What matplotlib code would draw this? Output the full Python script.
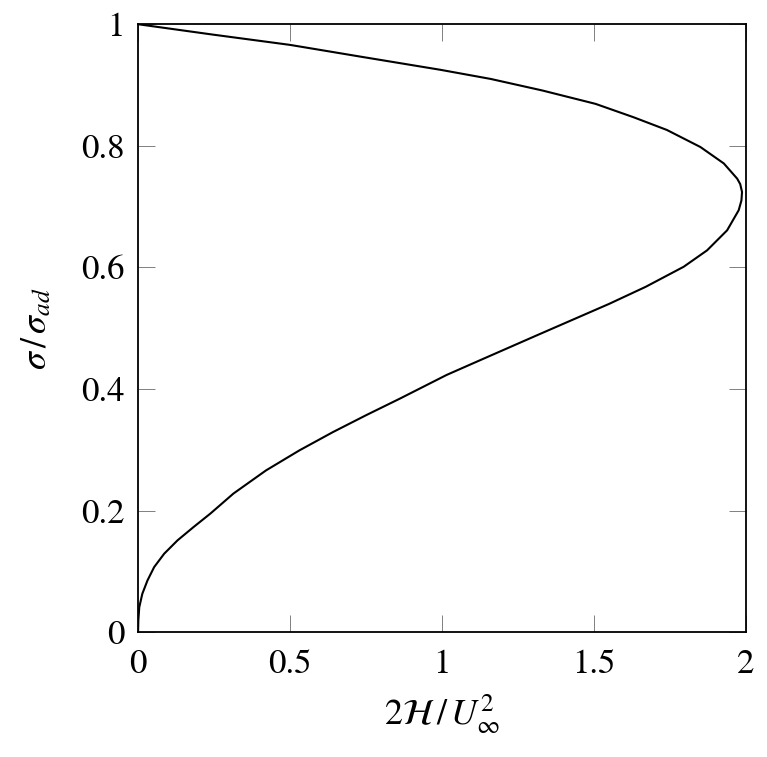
import matplotlib
matplotlib.use("Agg")
import matplotlib.pyplot as plt

# values (sigma/sigma_ad vs 2H/U^2)
sigma = [0.000, 0.020, 0.041, 0.063, 0.085, 0.107, 0.129, 0.151, 0.173, 0.195,
         0.228, 0.266, 0.299, 0.329, 0.357, 0.384, 0.423, 0.447, 0.488, 0.540,
         0.568, 0.601, 0.628, 0.661, 0.694, 0.710, 0.724, 0.737, 0.746, 0.771,
         0.798, 0.826, 0.847, 0.869, 0.891, 0.910, 0.925, 0.946, 0.966, 0.983,
         1.000]
energy = [0.000, 0.001, 0.004, 0.014, 0.031, 0.053, 0.086, 0.130, 0.183, 0.238,
          0.314, 0.421, 0.531, 0.641, 0.751, 0.861, 1.015, 1.124, 1.311, 1.550,
          1.670, 1.795, 1.872, 1.938, 1.976, 1.985, 1.987, 1.981, 1.971, 1.927,
          1.850, 1.740, 1.630, 1.505, 1.330, 1.160, 0.995, 0.740, 0.500, 0.245,
          0.000]

xticks = [0, 0.5, 1, 1.5, 2]
xticklabels = ["0", "0.5", "1", "1.5", "2"]
yticks = [0, 0.2, 0.4, 0.6, 0.8, 1]
yticklabels = ["0", "0.2", "0.4", "0.6", "0.8", "1"]

plt.rcParams["font.family"] = "STIXGeneral"
plt.rcParams["mathtext.fontset"] = "stix"

fig = plt.figure(figsize=(7.67, 7.57), dpi=100)
ax = fig.add_axes([0.180, 0.165, 0.7926, 0.803])

ax.plot(energy, sigma, color="black", lw=1.5, solid_joinstyle="round")

ax.set_xlim(0, 2)
ax.set_ylim(0, 1)
ax.set_xticks(xticks)
ax.set_xticklabels(xticklabels)
ax.set_yticks(yticks)
ax.set_yticklabels(yticklabels)
ax.tick_params(direction="in", length=12, width=0.7, color="0.5",
               top=True, right=True, labelsize=25)
ax.tick_params(axis="x", pad=12)
ax.tick_params(axis="y", pad=10)
for s in ax.spines.values():
    s.set_linewidth(1.3)

ax.set_xlabel(r"$2\mathcal{H}\,/\,U_\infty^2$", fontsize=26, labelpad=8)
ax.set_ylabel(r"$\sigma\,/\,\sigma_{ad}$", fontsize=26, labelpad=19)

fig.savefig("out.png", dpi=100)
